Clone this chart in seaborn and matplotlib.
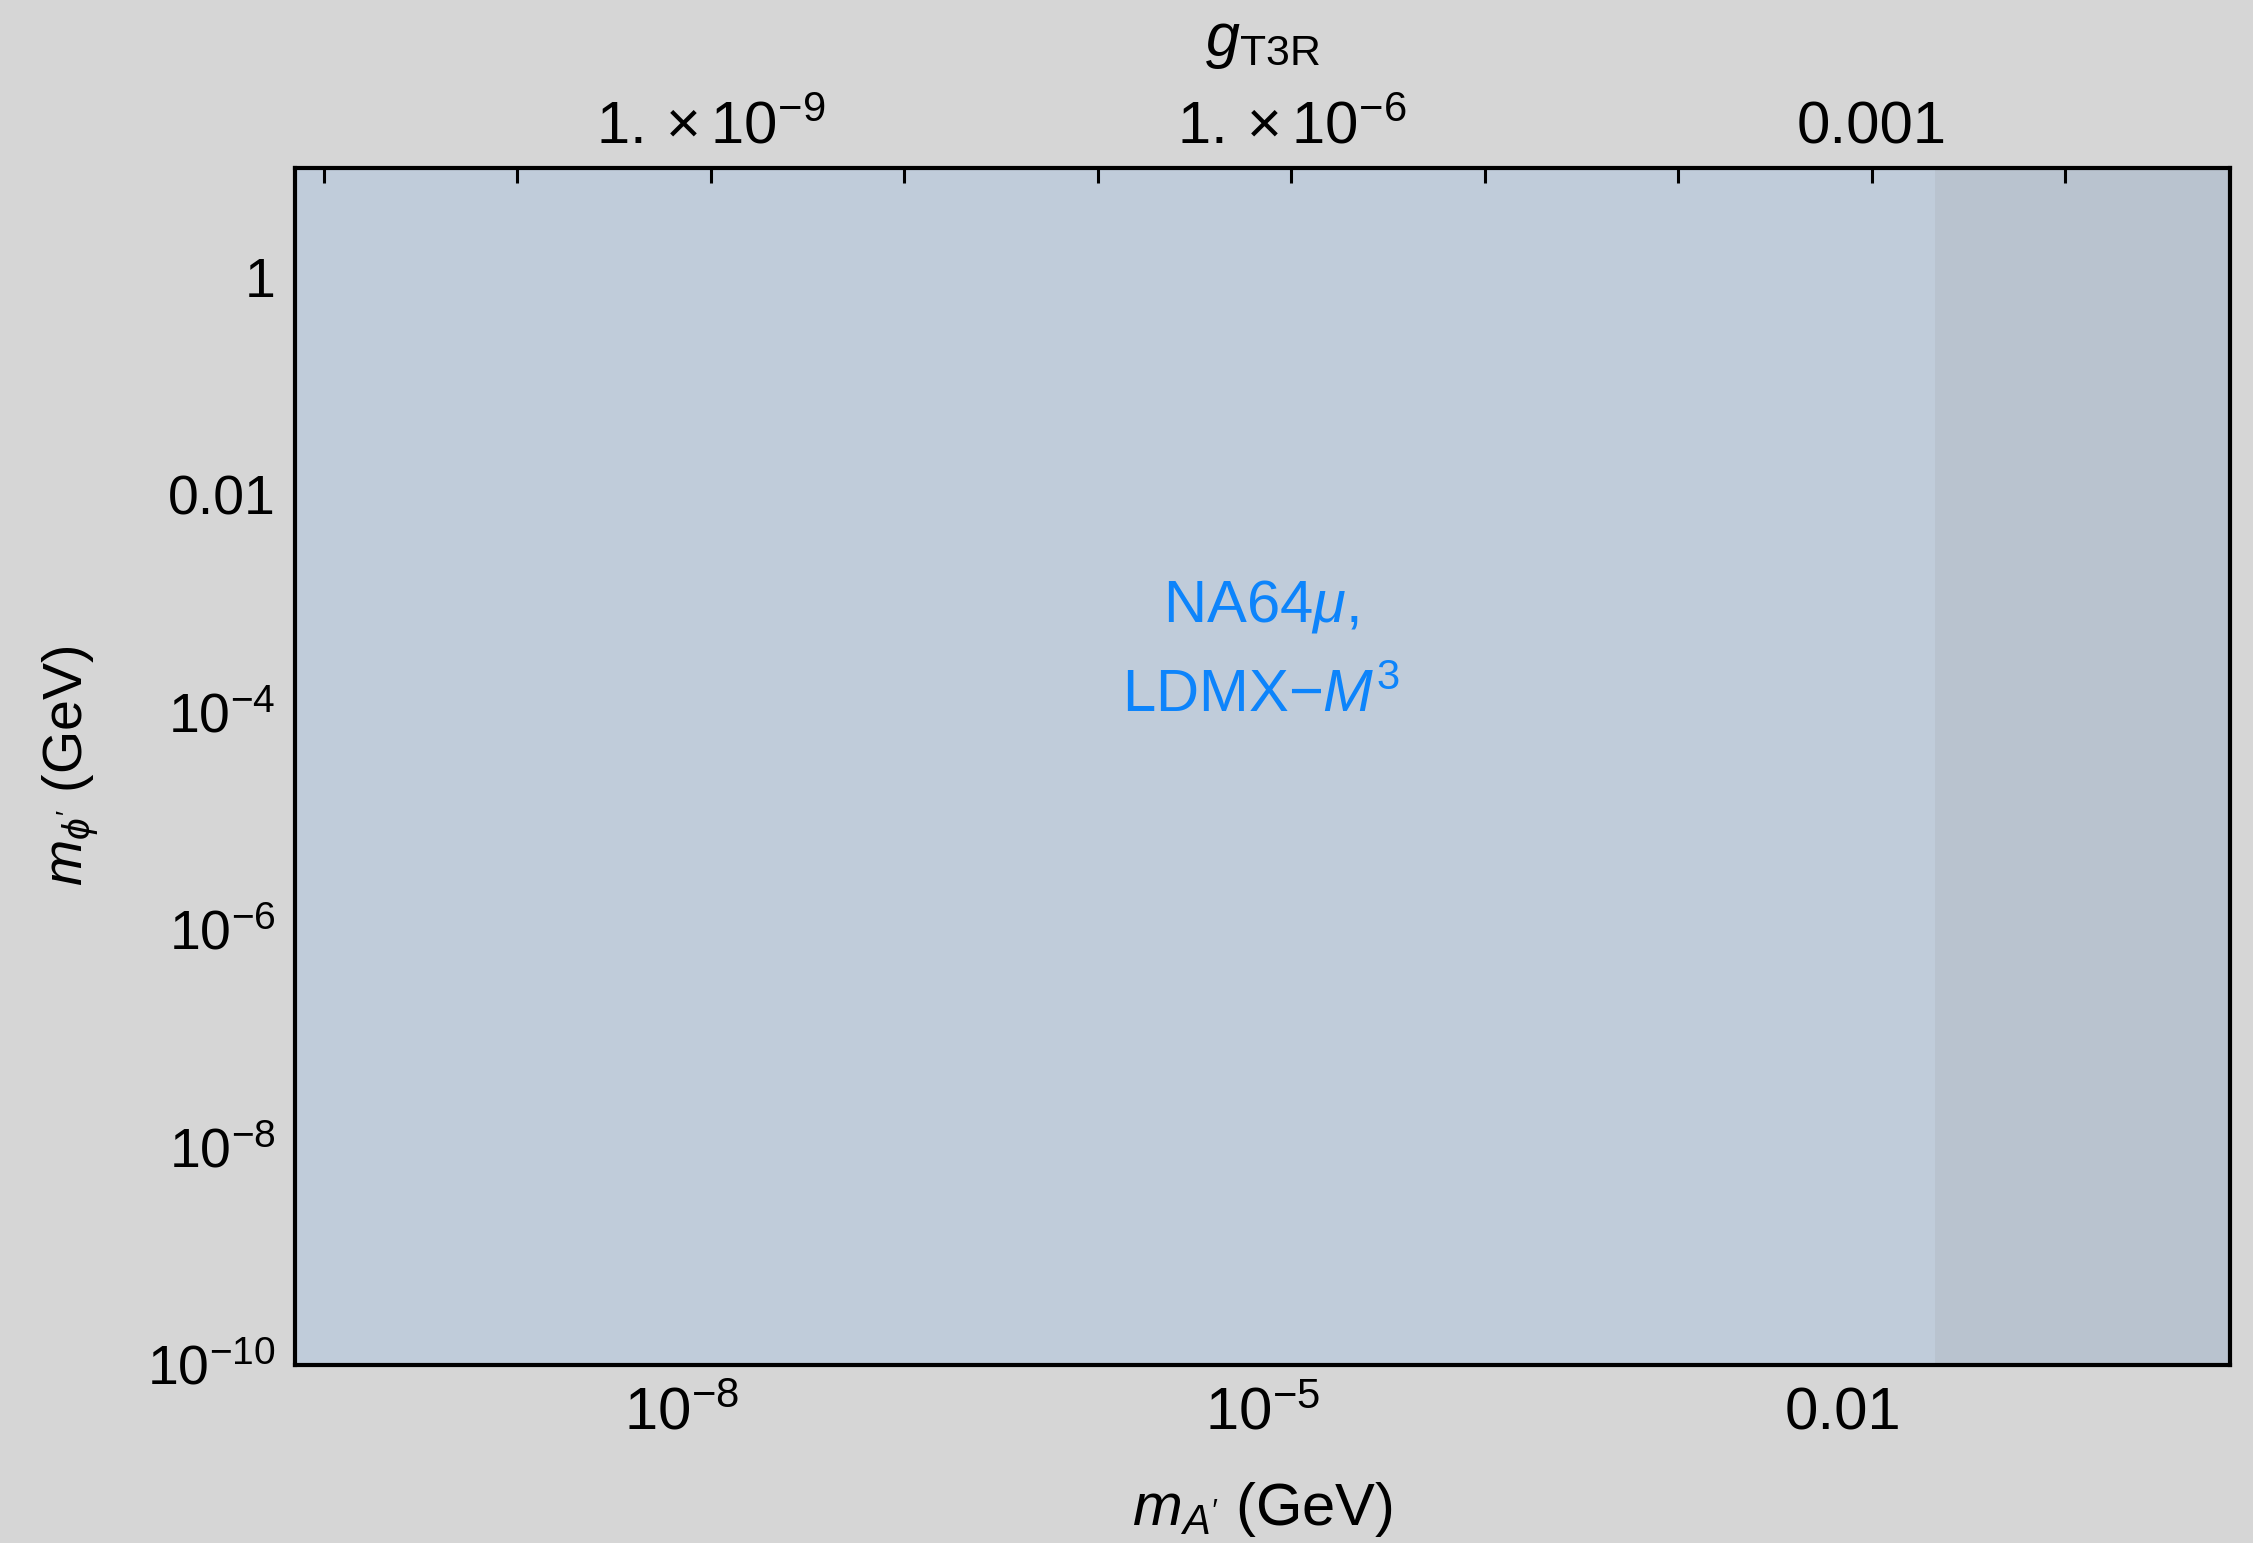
import matplotlib
matplotlib.use("Agg")
import matplotlib.pyplot as plt
import seaborn as sns
import pandas as pd
from matplotlib import font_manager as fm
from matplotlib.ticker import FixedLocator, FixedFormatter, NullFormatter

# ---------------- data ----------------
x_limits = [1e-10, 1.0]          # m_A' (GeV)
y_limits = [1e-10, 10.0]         # m_phi' (GeV)
na64_x = [1e-10, 1.0]
na64_lo = [1e-10, 1e-10]
na64_hi = [10.0, 10.0]
band_x = [0.03, 1.0]
band_lo = [1e-10, 1e-10]
band_hi = [10.0, 10.0]

x_major = [1e-8, 1e-5, 1e-2]
x_major_labels = [r"$\mathsf{10^{-8}}$", r"$\mathsf{10^{-5}}$", "0.01"]
x_minor = [1e-9, 1e-7, 1e-6, 1e-4, 1e-3, 1e-1]

y_major = [1.0, 1e-2, 1e-4, 1e-6, 1e-8, 1e-10]
y_major_labels = ["1", "0.01", r"$10^{-4}$", r"$10^{-6}$", r"$10^{-8}$", r"$10^{-10}$"]
y_minor = [10.0, 1e-1, 1e-3, 1e-5, 1e-7, 1e-9]

g_major = [1e-9, 1e-6, 1e-3]
g_major_labels = [r"$\mathsf{1.\times10^{-9}}$", r"$\mathsf{1.\times10^{-6}}$", "0.001"]
g_minor = [1e-11, 1e-10, 1e-8, 1e-7, 1e-5, 1e-4, 1e-2]
m_over_g = 14.1

region_label_1 = r"NA64$\mu$,"
region_label_2 = r"LDMX$-M^{3}$"

# ---------------- style ----------------
sns.set_theme(style="ticks")
names = {f.name for f in fm.fontManager.ttflist}
REG = "Liberation Sans" if "Liberation Sans" in names else "DejaVu Sans"
NAR = "Liberation Sans Narrow" if "Liberation Sans Narrow" in names else REG
plt.rcParams["font.family"] = [REG, "DejaVu Sans"]
plt.rcParams["mathtext.fontset"] = "custom"
plt.rcParams["mathtext.rm"] = REG
plt.rcParams["mathtext.it"] = REG + ":italic"
plt.rcParams["mathtext.sf"] = NAR
plt.rcParams["mathtext.bf"] = NAR + ":italic"
for k in ["text.color", "axes.labelcolor", "xtick.labelcolor", "ytick.labelcolor"]:
    plt.rcParams[k] = "black"

BG = "#d6d6d6"
FILL = "#c0ccda"
BAND = "#b9c3cf"
TXT = "#0d84fb"

fig = plt.figure(figsize=(22.53, 15.43), dpi=100, facecolor=BG)
L, R, B, T = 0.1309, 0.9898, 0.1156, 0.8913
ax = fig.add_axes([L, B, R - L, T - B])
ax.set_facecolor(FILL)

ax.fill_between(na64_x, na64_lo, na64_hi, color=FILL, lw=0, zorder=1)
ax.fill_between(band_x, band_lo, band_hi, color=BAND, lw=0, zorder=2)
edge = pd.DataFrame({"x": [band_x[0], band_x[0]], "y": [band_lo[0], band_hi[0]]})
sns.lineplot(data=edge, x="x", y="y", ax=ax, color=BAND, lw=0.5, estimator=None, sort=False, zorder=2)

ax.set_xscale("log")
ax.set_yscale("log")
ax.set_xlim(*x_limits)
ax.set_ylim(*y_limits)

for s in ax.spines.values():
    s.set_linewidth(3.0)
    s.set_color("black")
    s.set_zorder(5)

# bottom ticks
ax.xaxis.set_major_locator(FixedLocator(x_major))
ax.xaxis.set_major_formatter(FixedFormatter(x_major_labels))
ax.xaxis.set_minor_locator(FixedLocator(x_minor))
ax.xaxis.set_minor_formatter(NullFormatter())
ax.tick_params(axis="x", which="major", direction="in", length=13, width=0.9, color="#444444",
               labelsize=43, pad=16, top=False, bottom=True, labelcolor="black")
ax.tick_params(axis="x", which="minor", direction="in", length=6, width=0.9, color="#222222",
               top=False, bottom=True)
for lab in ax.get_xticklabels():
    lab.set_fontfamily(NAR)

# left ticks
ax.yaxis.set_major_locator(FixedLocator(y_major))
ax.yaxis.set_major_formatter(FixedFormatter(y_major_labels))
ax.yaxis.set_minor_locator(FixedLocator(y_minor))
ax.yaxis.set_minor_formatter(NullFormatter())
ax.tick_params(axis="y", which="major", direction="in", length=13, width=0.9, color="#555555",
               labelsize=40, pad=14, left=True, right=False, labelcolor="black")
ax.tick_params(axis="y", which="minor", direction="in", length=6.5, width=0.9, color="#555555",
               left=True, right=False)

# top axis (coupling)
tw = ax.twiny()
tw.set_xscale("log")
tw.set_xlim(x_limits[0] / m_over_g, x_limits[1] / m_over_g)
for s in tw.spines.values():
    s.set_visible(False)
tw.xaxis.set_major_locator(FixedLocator(g_major))
tw.xaxis.set_major_formatter(FixedFormatter(g_major_labels))
tw.xaxis.set_minor_locator(FixedLocator(g_minor))
tw.xaxis.set_minor_formatter(NullFormatter())
tw.tick_params(axis="x", which="both", direction="in", length=11, width=2.2, color="black",
               top=True, bottom=False, labeltop=True, labelbottom=False)
tw.tick_params(axis="x", which="major", labelsize=43, pad=9, labelcolor="black")
for lab in tw.get_xticklabels():
    lab.set_fontfamily(NAR)

# labels
ax.set_xlabel(r"$\mathbf{m}_{\mathbf{A'}}$ (GeV)", fontsize=43, fontfamily=NAR, color="black")
ax.xaxis.label.set_va("center")
ax.xaxis.set_label_coords(0.5, -0.1214)
ax.set_ylabel(r"$m_{\phi'}$ (GeV)", fontsize=40, color="black")
ax.yaxis.label.set_va("center")
ax.yaxis.set_label_coords((71 - 295) / 1935, 0.5)
tw.set_xlabel(r"$\mathbf{g}_{\mathsf{T3R}}$", fontsize=44, fontfamily=NAR, color="black")
tw.xaxis.label.set_va("center")
tw.xaxis.set_label_coords(0.5, 1.105)

ax.text(0.499, 0.6205, region_label_1, transform=ax.transAxes, ha="center", va="baseline",
        fontsize=43, color=TXT, zorder=6)
ax.text(0.499, 0.5453, region_label_2, transform=ax.transAxes, ha="center", va="baseline",
        fontsize=43, color=TXT, zorder=6)

fig.savefig("out.png", dpi=100, facecolor=BG)
